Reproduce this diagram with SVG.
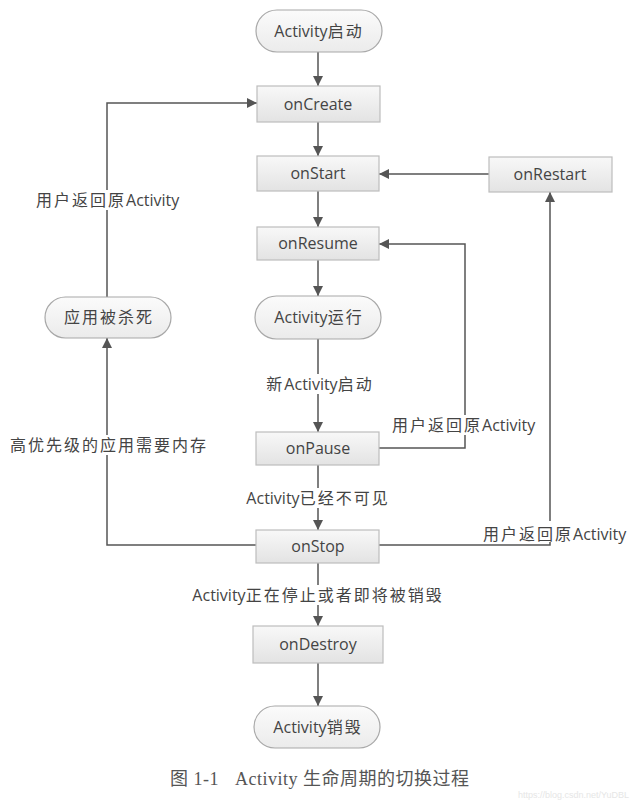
<svg xmlns="http://www.w3.org/2000/svg" width="640" height="802" viewBox="0 0 640 802">
  <defs>
    <linearGradient id="boxFill" x1="0" y1="0" x2="0" y2="1">
      <stop offset="0" stop-color="#f8f8f8"/>
      <stop offset="1" stop-color="#e3e3e3"/>
    </linearGradient>
    <linearGradient id="pillFill" x1="0" y1="0" x2="0" y2="1">
      <stop offset="0" stop-color="#fbfbfb"/>
      <stop offset="1" stop-color="#ebebeb"/>
    </linearGradient>
    <marker id="arrow" viewBox="0 0 10 10" refX="10" refY="5" markerWidth="10" markerHeight="10" markerUnits="userSpaceOnUse" orient="auto">
      <path d="M0,0 L10,5 L0,10 z" fill="#555"/>
    </marker>
  </defs>
  <style>
    .box { fill: url(#boxFill); stroke: #bdbdbd; stroke-width: 1.2; }
    .pill { fill: url(#pillFill); stroke: #a8a8a8; stroke-width: 1.2; }
    .t { font-family: "Open Sans", "Noto Sans CJK SC", sans-serif; font-size: 16px; fill: #444; }
    .mid { text-anchor: middle; }
    .cj { letter-spacing: 2px; }
    .edge { fill: none; stroke: #555; stroke-width: 1.5; }
    .bg { fill: #fff; }
    .cap { font-family: "Liberation Serif", "Noto Sans CJK SC", serif; font-size: 18px; fill: #555; letter-spacing: 0.5px; }
    .wm { font-family: "Liberation Sans", sans-serif; font-size: 9px; fill: #e6e6e6; }
  </style>

  <rect width="640" height="802" fill="#fff"/>

  <!-- connectors -->
  <g id="connectors">
    <line class="edge" x1="318" y1="52" x2="318" y2="86" marker-end="url(#arrow)"/>
    <line class="edge" x1="318" y1="122" x2="318" y2="156" marker-end="url(#arrow)"/>
    <line class="edge" x1="318" y1="191" x2="318" y2="227" marker-end="url(#arrow)"/>
    <line class="edge" x1="318" y1="260" x2="318" y2="296" marker-end="url(#arrow)"/>
    <line class="edge" x1="318" y1="339" x2="318" y2="432" marker-end="url(#arrow)"/>
    <line class="edge" x1="318" y1="465" x2="318" y2="530" marker-end="url(#arrow)"/>
    <line class="edge" x1="318" y1="563" x2="318" y2="626" marker-end="url(#arrow)"/>
    <line class="edge" x1="318" y1="663" x2="318" y2="706" marker-end="url(#arrow)"/>
    <!-- onRestart back to onStart -->
    <line class="edge" x1="489" y1="174" x2="379" y2="174" marker-end="url(#arrow)"/>
    <!-- onPause back to onResume -->
    <polyline class="edge" points="379,448 465,448 465,244 379,244" marker-end="url(#arrow)"/>
    <!-- onStop to onRestart -->
    <polyline class="edge" points="379,545 550,545 550,192" marker-end="url(#arrow)"/>
    <!-- onStop to process killed -->
    <polyline class="edge" points="256,545 107,545 107,338" marker-end="url(#arrow)"/>
    <!-- process killed back to onCreate -->
    <polyline class="edge" points="107,297 107,103 257,103" marker-end="url(#arrow)"/>

    <!-- edge labels -->
    <rect class="bg" x="262" y="374" width="116" height="20"/>
    <text class="t mid" x="320" y="390"><tspan class="cj">新</tspan>Activity<tspan class="cj">启动</tspan></text>

    <rect class="bg" x="244" y="488" width="148" height="20"/>
    <text class="t mid" x="318" y="504">Activity<tspan class="cj">已经不可见</tspan></text>

    <rect class="bg" x="189" y="585" width="258" height="20"/>
    <text class="t mid" x="318" y="601">Activity<tspan class="cj">正在停止或者即将被销毁</tspan></text>

    <rect class="bg" x="35" y="190" width="148" height="20"/>
    <text class="t" x="36" y="206"><tspan class="cj">用户返回原</tspan>Activity</text>

    <rect class="bg" x="8" y="435" width="202" height="20"/>
    <text class="t cj" x="10" y="451">高优先级的应用需要内存</text>

    <rect class="bg" x="391" y="415" width="148" height="20"/>
    <text class="t" x="392" y="431"><tspan class="cj">用户返回原</tspan>Activity</text>

    <rect class="bg" x="482" y="521" width="148" height="21"/>
    <text class="t" x="483" y="540"><tspan class="cj">用户返回原</tspan>Activity</text>
  </g>

  <!-- nodes -->
  <g id="activity-start">
    <rect class="pill" x="256" y="10" width="126" height="42" rx="21"/>
    <text class="t mid" x="319" y="37">Activity<tspan class="cj">启动</tspan></text>
  </g>
  <g id="onCreate">
    <rect class="box" x="257" y="86" width="123" height="36"/>
    <text class="t mid" x="318" y="110">onCreate</text>
  </g>
  <g id="onStart">
    <rect class="box" x="257" y="156" width="122" height="35"/>
    <text class="t mid" x="318" y="179">onStart</text>
  </g>
  <g id="onRestart">
    <rect class="box" x="489" y="157" width="123" height="35"/>
    <text class="t mid" x="550" y="180">onRestart</text>
  </g>
  <g id="onResume">
    <rect class="box" x="257" y="227" width="122" height="33"/>
    <text class="t mid" x="318" y="249">onResume</text>
  </g>
  <g id="activity-running">
    <rect class="pill" x="255" y="296" width="126" height="43" rx="21.5"/>
    <text class="t mid" x="319" y="323">Activity<tspan class="cj">运行</tspan></text>
  </g>
  <g id="app-killed">
    <rect class="pill" x="45" y="297" width="126" height="41" rx="20.5"/>
    <text class="t mid cj" x="109" y="323">应用被杀死</text>
  </g>
  <g id="onPause">
    <rect class="box" x="256" y="432" width="123" height="33"/>
    <text class="t mid" x="318" y="454">onPause</text>
  </g>
  <g id="onStop">
    <rect class="box" x="256" y="530" width="123" height="33"/>
    <text class="t mid" x="318" y="552">onStop</text>
  </g>
  <g id="onDestroy">
    <rect class="box" x="253" y="626" width="130" height="37"/>
    <text class="t mid" x="318" y="650">onDestroy</text>
  </g>
  <g id="activity-destroyed">
    <rect class="pill" x="254" y="706" width="126" height="42" rx="21"/>
    <text class="t mid" x="318" y="733">Activity<tspan class="cj">销毁</tspan></text>
  </g>

  <!-- caption -->
  <text class="cap" x="170" y="785">图 1-1<tspan dx="16">Activity 生命周期的切换过程</tspan></text>
  <text class="wm" x="518" y="798">https://blog.csdn.net/YuDBL</text>
</svg>
